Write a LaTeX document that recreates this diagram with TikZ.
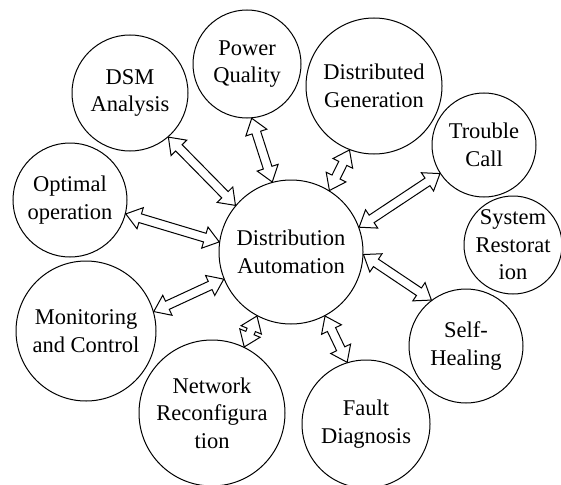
\documentclass[tikz,border=0pt]{standalone}
\usepackage{fontspec}
\setmainfont{Liberation Serif}
\usetikzlibrary{calc}
\tikzset{
    bubble/.style={draw, circle, line width=1pt, align=center, inner sep=0pt,
        font=\fontsize{22.5}{27.5}\selectfont},
    hollow/.style={draw, line width=1pt, line join=miter}
}
% hollow double-headed block arrow between two points
\newcommand{\fatarrow}[2]{%
    \coordinate (hA) at ($(#1)!15pt!(#2)$);
    \coordinate (hB) at ($(#2)!15pt!(#1)$);
    \draw[hollow] (#1) -- ($(hA)!11pt!90:(#2)$) -- ($(hA)!4.5pt!90:(#2)$)
        -- ($(hB)!4.5pt!-90:(#1)$) -- ($(hB)!11pt!-90:(#1)$) -- (#2)
        -- ($(hB)!11pt!90:(#1)$) -- ($(hB)!4.5pt!90:(#1)$)
        -- ($(hA)!4.5pt!-90:(#2)$) -- ($(hA)!11pt!-90:(#2)$) -- cycle;
}
\begin{document}
\begin{tikzpicture}[x=1pt, y=-1pt]
    \useasboundingbox (0,0) rectangle (561,484);
    \node[bubble, minimum size=144pt] (da) at (291,252) {Distribution\\Automation};
    \node[bubble, minimum size=116pt] (dsm) at (130,93) {DSM\\Analysis};
    \node[bubble, minimum size=108pt] (pq) at (247,64) {Power\\Quality};
    \node[bubble, minimum size=136pt] (dg) at (374,86) {Distributed\\Generation};
    \node[bubble, minimum size=104pt] (tc) at (484,145) {Trouble\\Call};
    \node[bubble, minimum size=98pt, inner sep=-10pt] (sr) at (513,245) {System\\Restorat\\ion};
    \node[bubble, minimum size=114pt] (opt) at (70,200) {Optimal\\operation};
    \node[bubble, minimum size=140pt] (mc) at (86,331) {Monitoring\\and Control};
    \node[bubble, minimum size=146pt] (nr) at (212,413) {Network\\Reconfigura\\tion};
    \node[bubble, minimum size=128pt] (fd) at (366,424) {Fault\\Diagnosis};
    \node[bubble, minimum size=114pt] (sh) at (466,346) {Self-\\Healing};
    \fatarrow{da.140}{dsm.-49}
    \fatarrow{da.105}{pq.-85}
    \fatarrow{da.58}{dg.-111}
    \fatarrow{da.20}{tc.-147}
    \fatarrow{da.-2}{sh.127}
    \fatarrow{da.-62}{fd.107}
    \fatarrow{da.-118}{nr.64}
    \fatarrow{da.-158}{mc.16}
    \fatarrow{da.172}{opt.-14}
\end{tikzpicture}
\end{document}
